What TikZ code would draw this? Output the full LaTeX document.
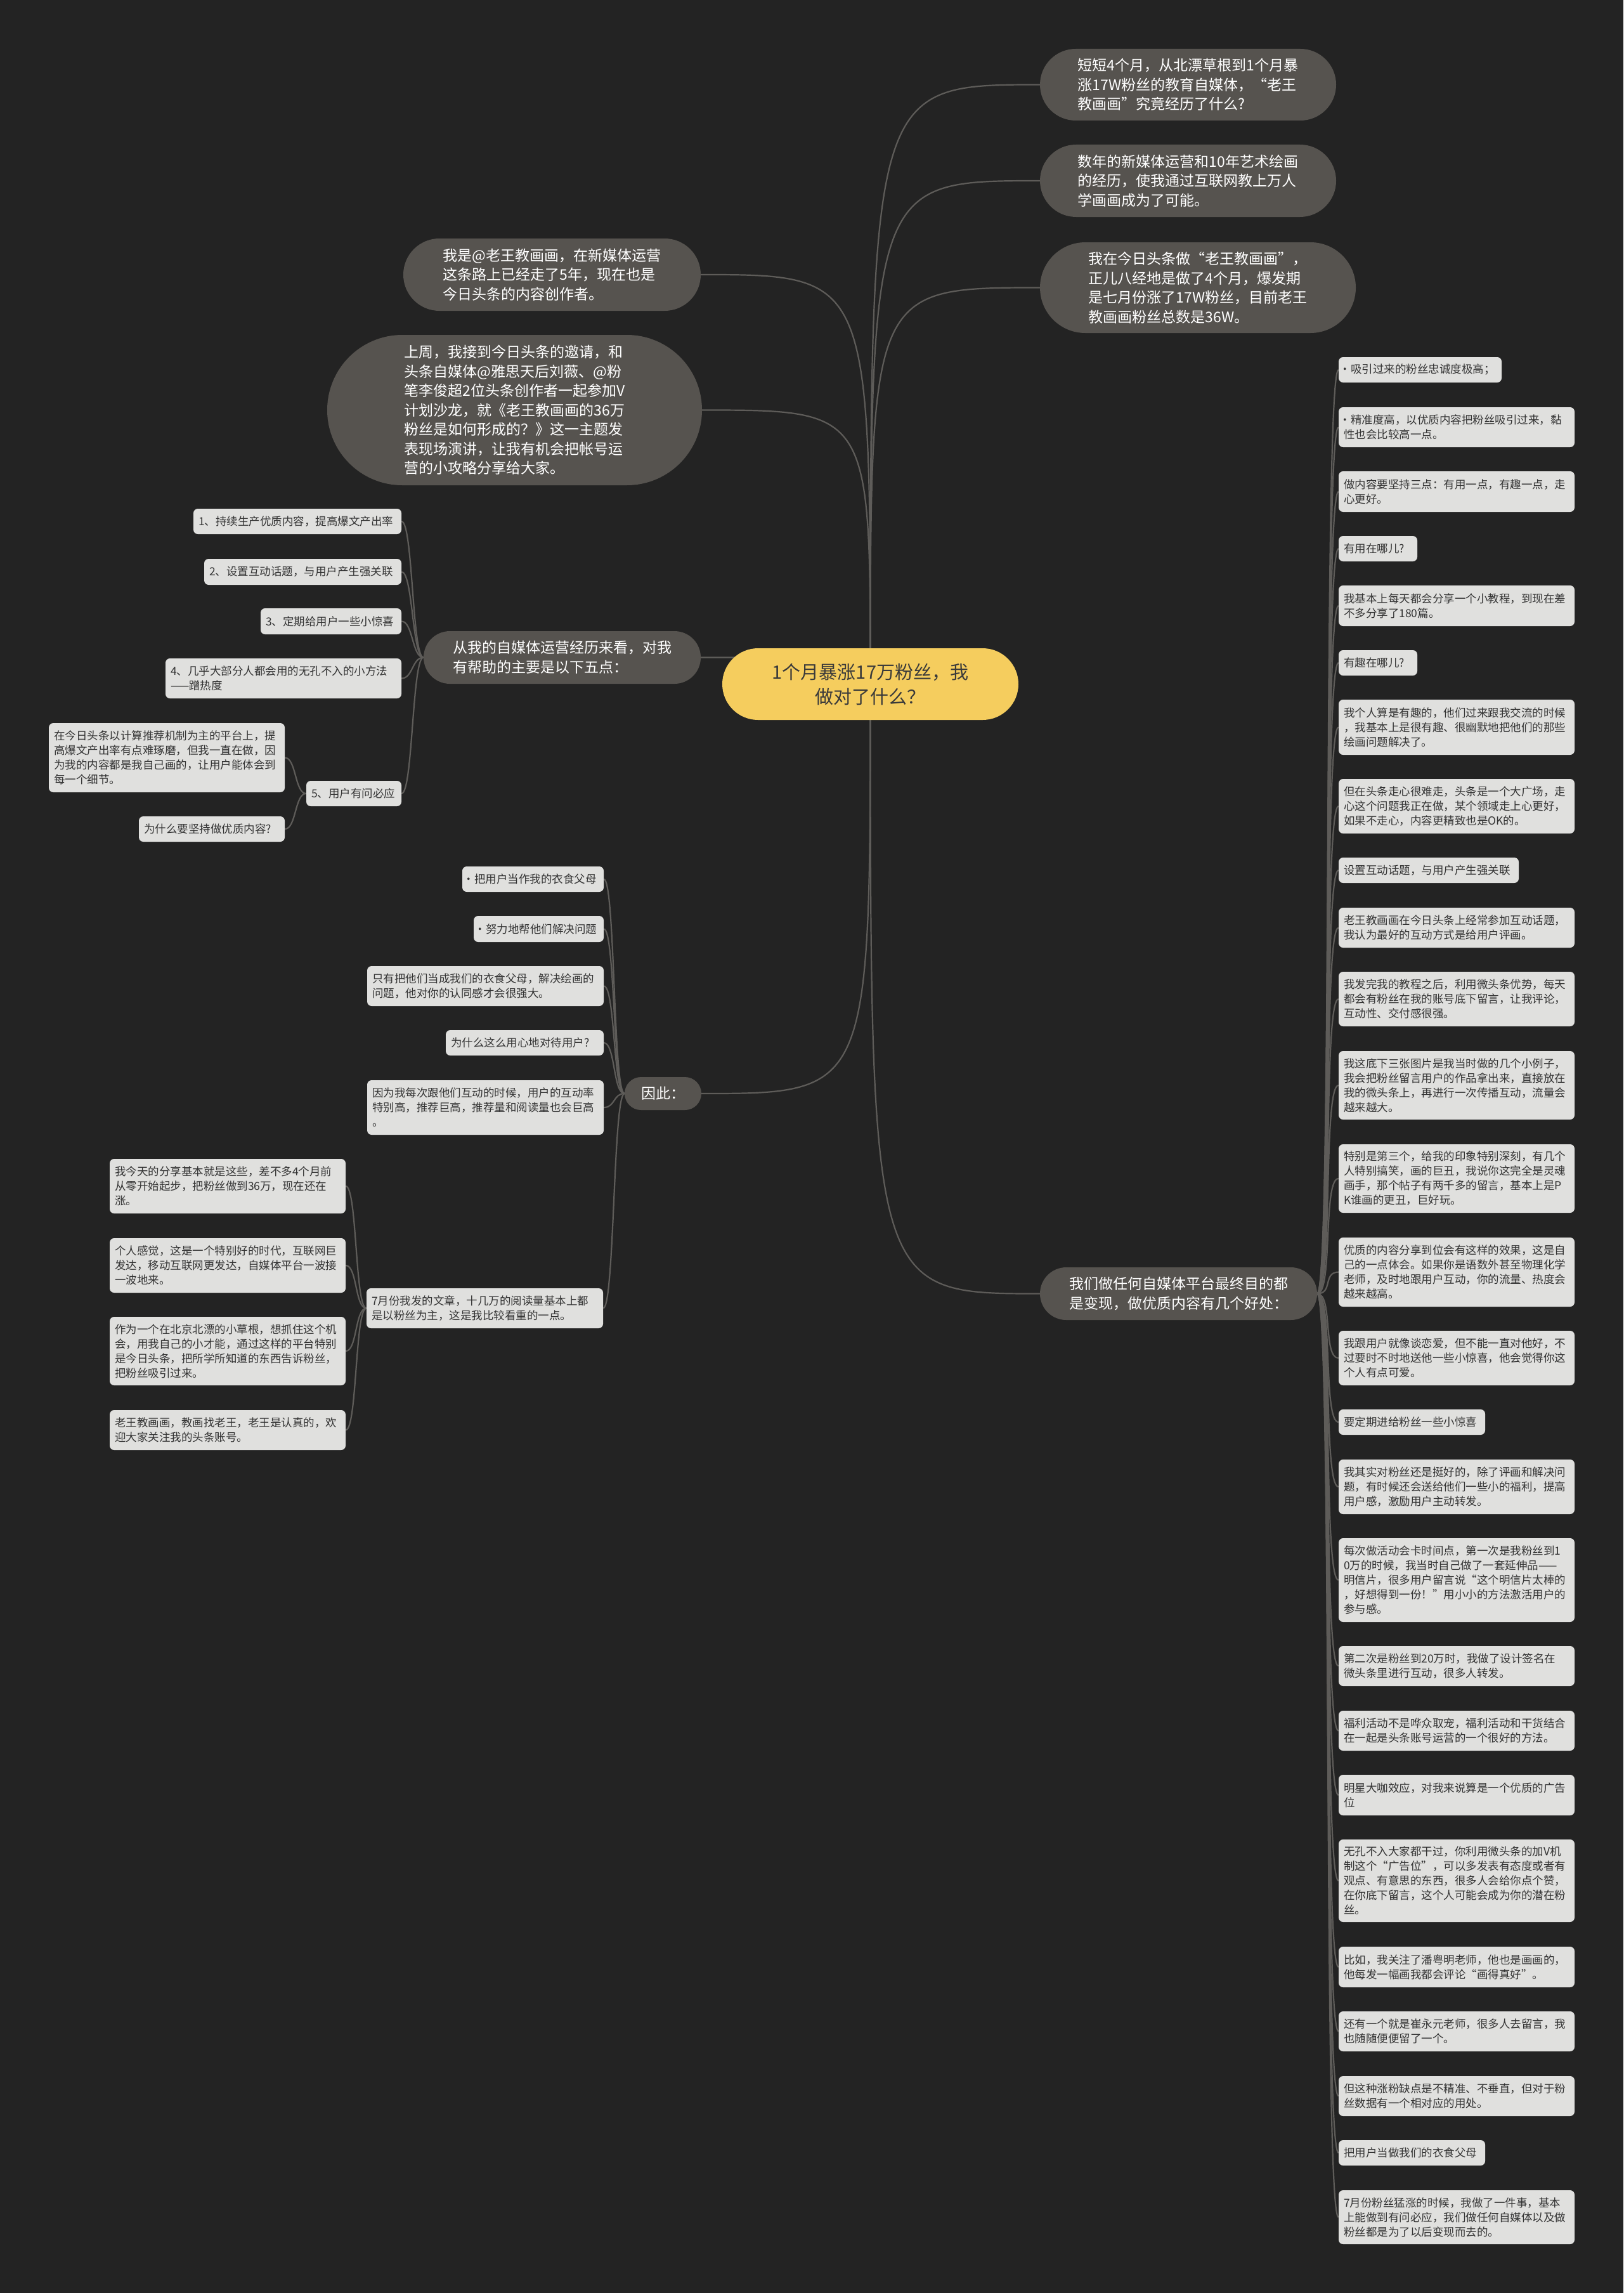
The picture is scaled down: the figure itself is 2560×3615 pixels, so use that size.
\documentclass[tikz,border=0pt]{standalone}
\usepackage{fontspec}
\setmainfont{Noto Sans CJK SC}
\usetikzlibrary{calc}
\pgfdeclarelayer{bg}
\pgfsetlayers{bg,main}
\definecolor{bgc}{HTML}{232323}
\definecolor{pillc}{HTML}{56534F}
\definecolor{rootc}{HTML}{F5CD5E}
\definecolor{leafc}{HTML}{E0E0DE}
\definecolor{linec}{HTML}{5E5C59}
\definecolor{leaftxt}{HTML}{333333}
\definecolor{roottxt}{HTML}{3A3A3A}
% name, x1, x2, y1, y2, text
\newcommand\mkleaf[6]{%
  \pgfmathsetmacro\mlW{#3-#2}%
  \pgfmathsetmacro\mlH{#5-#4}%
  \pgfmathsetmacro\mlX{(#2+#3)/2}%
  \pgfmathsetmacro\mlY{(#4+#5)/2}%
  \pgfmathsetmacro\mlT{#3-#2-16}%
  \node[leafbox, minimum width=\mlW pt, minimum height=\mlH pt, text width=\mlT pt] (#1) at (\mlX,\mlY) {#6};}
% name, style, x1, x2, y1, y2, text
\newcommand\mkpill[7]{%
  \pgfmathsetmacro\mpW{#4-#3}%
  \pgfmathsetmacro\mpH{#6-#5}%
  \pgfmathsetmacro\mpX{(#3+#4)/2}%
  \pgfmathsetmacro\mpY{(#5+#6)/2}%
  \pgfmathsetmacro\mpR{(#6-#5)/2-0.05}%
  \node[#2, minimum width=\mpW pt, minimum height=\mpH pt, rounded corners=\mpR pt] (#1) at (\mpX,\mpY) {#7};}
\newcommand\bdot{\makebox[11pt][l]{\hspace{-6.5pt}·}}
\begin{document}
\begin{tikzpicture}[x=1pt,y=-1pt,
  leafbox/.style={rectangle, fill=leafc, text=leaftxt, rounded corners=7pt, inner xsep=8pt, inner ysep=0pt, align=left, font=\fontsize{17.5}{23}\selectfont},
  pillbox/.style={rectangle, fill=pillc, text=white, inner sep=0pt, align=left, font=\fontsize{23}{30.5}\selectfont},
  rootbox/.style={rectangle, fill=rootc, text=roottxt, inner sep=0pt, align=center, font=\fontsize{29}{39}\selectfont},
  conn/.style={draw=linec, line width=2.2pt}]
\useasboundingbox (0,0) rectangle (2560,3615);

% ---- main nodes
\mkpill{root}{rootbox}{1139}{1606}{1022}{1135}{1个月暴涨17万粉丝，我\\做对了什么？}
\mkpill{L1}{pillbox}{1640}{2107}{77}{190}{短短4个月，从北漂草根到1个月暴\\涨17W粉丝的教育自媒体，“老王\\教画画”究竟经历了什么?}
\mkpill{L2}{pillbox}{1640}{2107}{228}{342}{数年的新媒体运营和10年艺术绘画\\的经历，使我通过互联网教上万人\\学画画成为了可能。}
\mkpill{L3}{pillbox}{1640}{2138}{382}{525}{我在今日头条做“老王教画画”，\\正儿八经地是做了4个月，爆发期\\是七月份涨了17W粉丝，目前老王\\教画画粉丝总数是36W。}
\mkpill{L4}{pillbox}{636}{1105}{376}{490}{我是@老王教画画，在新媒体运营\\这条路上已经走了5年，现在也是\\今日头条的内容创作者。}
\mkpill{L5}{pillbox}{516}{1107}{528}{765}{上周，我接到今日头条的邀请，和\\头条自媒体@雅思天后刘薇、@粉\\笔李俊超2位头条创作者一起参加V\\计划沙龙，就《老王教画画的36万\\粉丝是如何形成的？》这一主题发\\表现场演讲，让我有机会把帐号运\\营的小攻略分享给大家。}
\mkpill{L6}{pillbox}{668}{1105}{995}{1078}{从我的自媒体运营经历来看，对我\\有帮助的主要是以下五点：}
\mkpill{L7}{pillbox}{985}{1106}{1698}{1750}{因此：}
\mkpill{L8}{pillbox}{1640}{2077}{1998}{2081}{我们做任何自媒体平台最终目的都\\是变现，做优质内容有几个好处：}

% ---- left: five points
\mkleaf{a1}{305}{633}{802}{842}{1、持续生产优质内容，提高爆文产出率}
\mkleaf{a2}{322}{633}{881}{922}{2、设置互动话题，与用户产生强关联}
\mkleaf{a3}{411}{633}{959}{1000}{3、定期给用户一些小惊喜}
\mkleaf{a4}{261}{633}{1038}{1101}{4、几乎大部分人都会用的无孔不入的小方法\\——蹭热度}
\mkleaf{a5}{483}{633}{1231}{1271}{5、用户有问必应}
\mkleaf{b1}{77}{449}{1140}{1249}{在今日头条以计算推荐机制为主的平台上，提\\高爆文产出率有点难琢磨，但我一直在做，因\\为我的内容都是我自己画的，让用户能体会到\\每一个细节。}
\mkleaf{b2}{219}{449}{1287}{1327}{为什么要坚持做优质内容?}

% ---- left: 因此
\mkleaf{c1}{729}{952}{1366}{1406}{\bdot 把用户当作我的衣食父母}
\mkleaf{c2}{747}{952}{1444}{1485}{\bdot 努力地帮他们解决问题}
\mkleaf{c3}{579}{952}{1523}{1586}{只有把他们当成我们的衣食父母，解决绘画的\\问题，他对你的认同感才会很强大。}
\mkleaf{c4}{703}{952}{1624}{1664}{为什么这么用心地对待用户?}
\mkleaf{c5}{579}{952}{1703}{1789}{因为我每次跟他们互动的时候，用户的互动率\\特别高，推荐巨高，推荐量和阅读量也会巨高\\。}
\mkleaf{c6}{578}{951}{2031}{2094}{7月份我发的文章，十几万的阅读量基本上都\\是以粉丝为主，这是我比较看重的一点。}
\mkleaf{d1}{173}{545}{1827}{1913}{我今天的分享基本就是这些，差不多4个月前\\从零开始起步，把粉丝做到36万，现在还在\\涨。}
\mkleaf{d2}{173}{545}{1952}{2038}{个人感觉，这是一个特别好的时代，互联网巨\\发达，移动互联网更发达，自媒体平台一波接\\一波地来。}
\mkleaf{d3}{173}{545}{2076}{2184}{作为一个在北京北漂的小草根，想抓住这个机\\会，用我自己的小才能，通过这样的平台特别\\是今日头条，把所学所知道的东西告诉粉丝，\\把粉丝吸引过来。}
\mkleaf{d4}{173}{545}{2223}{2286}{老王教画画，教画找老王，老王是认真的，欢\\迎大家关注我的头条账号。}

% ---- right column
\mkleaf{r1}{2111}{2368}{563}{603}{\bdot 吸引过来的粉丝忠诚度极高；}
\mkleaf{r2}{2111}{2483}{642}{705}{\bdot 精准度高，以优质内容把粉丝吸引过来，黏\\性也会比较高一点。}
\mkleaf{r3}{2111}{2483}{743}{807}{做内容要坚持三点：有用一点，有趣一点，走\\心更好。}
\mkleaf{r4}{2111}{2235}{845}{885}{有用在哪儿?}
\mkleaf{r5}{2111}{2483}{923}{987}{我基本上每天都会分享一个小教程，到现在差\\不多分享了180篇。}
\mkleaf{r6}{2111}{2235}{1025}{1065}{有趣在哪儿?}
\mkleaf{r7}{2111}{2483}{1103}{1190}{我个人算是有趣的，他们过来跟我交流的时候\\，我基本上是很有趣、很幽默地把他们的那些\\绘画问题解决了。}
\mkleaf{r8}{2111}{2483}{1228}{1314}{但在头条走心很难走，头条是一个大广场，走\\心这个问题我正在做，某个领域走上心更好，\\如果不走心，内容更精致也是OK的。}
\mkleaf{r9}{2111}{2395}{1352}{1392}{设置互动话题，与用户产生强关联}
\mkleaf{r10}{2111}{2483}{1431}{1494}{老王教画画在今日头条上经常参加互动话题，\\我认为最好的互动方式是给用户评画。}
\mkleaf{r11}{2111}{2483}{1532}{1618}{我发完我的教程之后，利用微头条优势，每天\\都会有粉丝在我的账号底下留言，让我评论，\\互动性、交付感很强。}
\mkleaf{r12}{2111}{2483}{1657}{1765}{我这底下三张图片是我当时做的几个小例子，\\我会把粉丝留言用户的作品拿出来，直接放在\\我的微头条上，再进行一次传播互动，流量会\\越来越大。}
\mkleaf{r13}{2111}{2483}{1804}{1912}{特别是第三个，给我的印象特别深刻，有几个\\人特别搞笑，画的巨丑，我说你这完全是灵魂\\画手，那个帖子有两千多的留言，基本上是P\\K谁画的更丑，巨好玩。}
\mkleaf{r14}{2111}{2483}{1951}{2060}{优质的内容分享到位会有这样的效果，这是自\\己的一点体会。如果你是语数外甚至物理化学\\老师，及时地跟用户互动，你的流量、热度会\\越来越高。}
\mkleaf{r15}{2111}{2483}{2098}{2184}{我跟用户就像谈恋爱，但不能一直对他好，不\\过要时不时地送他一些小惊喜，他会觉得你这\\个人有点可爱。}
\mkleaf{r16}{2111}{2342}{2222}{2262}{要定期进给粉丝一些小惊喜}
\mkleaf{r17}{2111}{2483}{2301}{2387}{我其实对粉丝还是挺好的，除了评画和解决问\\题，有时候还会送给他们一些小的福利，提高\\用户感，激励用户主动转发。}
\mkleaf{r18}{2111}{2483}{2425}{2557}{每次做活动会卡时间点，第一次是我粉丝到1\\0万的时候，我当时自己做了一套延伸品——\\明信片，很多用户留言说“这个明信片太棒的\\，好想得到一份！”用小小的方法激活用户的\\参与感。}
\mkleaf{r19}{2111}{2483}{2595}{2658}{第二次是粉丝到20万时，我做了设计签名在\\微头条里进行互动，很多人转发。}
\mkleaf{r20}{2111}{2483}{2697}{2760}{福利活动不是哗众取宠，福利活动和干货结合\\在一起是头条账号运营的一个很好的方法。}
\mkleaf{r21}{2111}{2483}{2798}{2862}{明星大咖效应，对我来说算是一个优质的广告\\位}
\mkleaf{r22}{2111}{2483}{2900}{3030}{无孔不入大家都干过，你利用微头条的加V机\\制这个“广告位”，可以多发表有态度或者有\\观点、有意思的东西，很多人会给你点个赞，\\在你底下留言，这个人可能会成为你的潜在粉\\丝。}
\mkleaf{r23}{2111}{2483}{3069}{3133}{比如，我关注了潘粤明老师，他也是画画的，\\他每发一幅画我都会评论“画得真好”。}
\mkleaf{r24}{2111}{2483}{3171}{3234}{还有一个就是崔永元老师，很多人去留言，我\\也随随便便留了一个。}
\mkleaf{r25}{2111}{2483}{3273}{3336}{但这种涨粉缺点是不精准、不垂直，但对于粉\\丝数据有一个相对应的用处。}
\mkleaf{r26}{2111}{2342}{3374}{3414}{把用户当做我们的衣食父母}
\mkleaf{r27}{2111}{2483}{3453}{3538}{7月份粉丝猛涨的时候，我做了一件事，基本\\上能做到有问必应，我们做任何自媒体以及做\\粉丝都是为了以后变现而去的。}

% ---- connectors
\begin{pgfonlayer}{bg}
\fill[bgc] (0,0) rectangle (2560,3615);
\foreach \n in {L1,L2,L3,L8}
  \draw[conn] (root.center) .. controls (root.center |- \n.west) .. (\n.west);
\foreach \n in {L4,L5,L6,L7}
  \draw[conn] (root.center) .. controls (root.center |- \n.east) .. (\n.east);
\foreach \n in {a1,a2,a3,a4,a5}
  \draw[conn] (L6.west) .. controls +(-18,0) and +(18,0) .. (\n.east);
\foreach \n in {b1,b2}
  \draw[conn] (a5.west) .. controls +(-18,0) and +(18,0) .. (\n.east);
\foreach \n in {c1,c2,c3,c4,c5,c6}
  \draw[conn] (L7.west) .. controls +(-18,0) and +(18,0) .. (\n.east);
\foreach \n in {d1,d2,d3,d4}
  \draw[conn] (c6.west) .. controls +(-18,0) and +(18,0) .. (\n.east);
\foreach \i in {1,...,27}
  \draw[conn] (L8.east) .. controls +(25,0) and +(-25,0) .. (r\i.west);
\end{pgfonlayer}
\end{tikzpicture}
\end{document}
